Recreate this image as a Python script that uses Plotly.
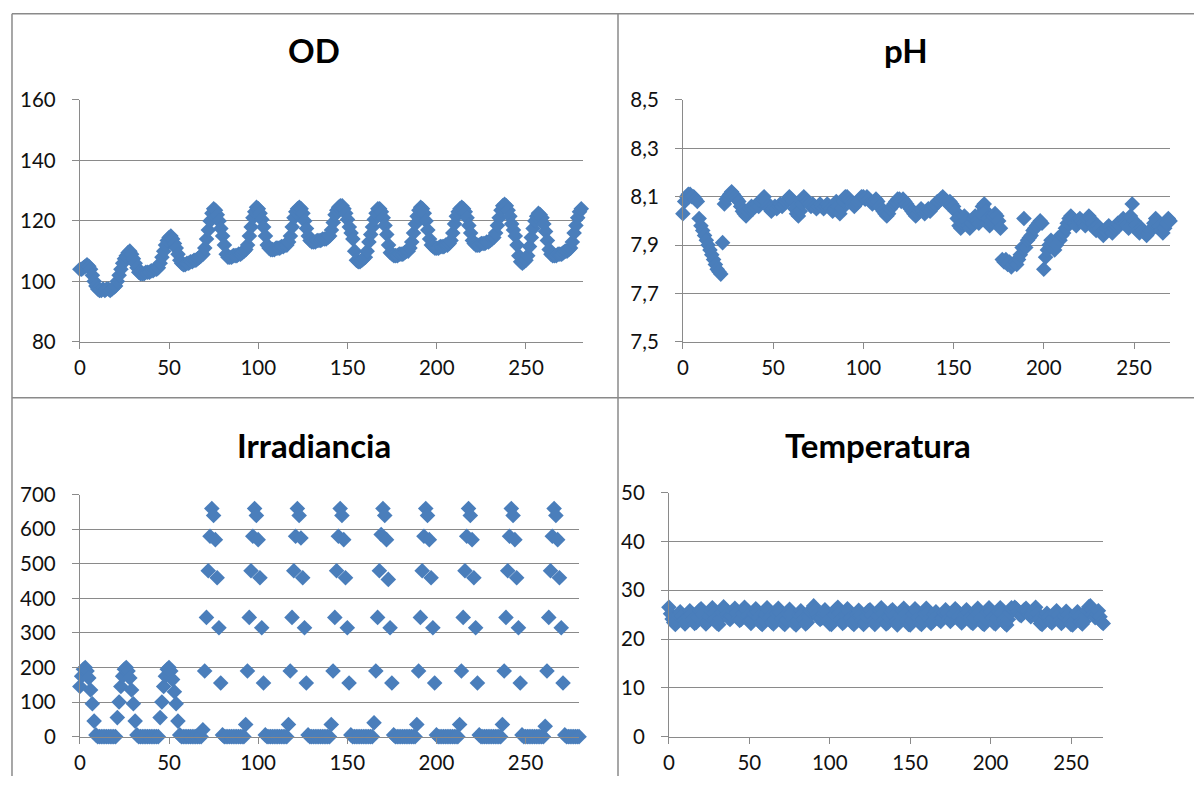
import plotly.graph_objects as go

# ---------------- data ----------------
od_hours = list(range(0, 282))
od_values = [
    104, 104, 104.5, 105, 105.5, 105, 104, 102, 100, 98.5, 97.5, 97, 97, 97.5, 97, 97.5, 97.5, 97, 97.5, 98, 98.5, 100, 102, 104,
    106, 107.5, 108.5, 109.5, 110, 109, 107.5, 106, 104.5, 103, 102.5, 102.5, 102.5, 103, 103, 103, 103.5, 103.5, 104, 104, 104.5, 106, 108, 110,
    112, 113.5, 114.5, 115, 114, 112.5, 111, 109, 107, 106, 105.5, 105.5, 106, 106, 106.5, 106.5, 107, 107, 107.5, 108, 108.5, 109, 111, 114,
    117, 120, 122.5, 124, 123.5, 122, 120, 117.5, 115, 112, 109, 108, 108, 108, 108.5, 108.5, 108.5, 109, 109, 109.5, 110, 110.5, 112, 115,
    118, 121, 123, 124.5, 124, 122.5, 120.5, 118, 115, 112, 111, 110.5, 110.5, 110.5, 111, 111, 111, 111.5, 111.5, 112, 112, 113, 115, 118,
    121, 123, 124, 124.5, 124, 122.5, 120, 117.5, 115, 113.5, 113, 113, 113, 113.5, 113.5, 113.5, 114, 114, 114, 114.5, 115, 117, 119.5, 122,
    123.5, 124.5, 125, 125, 124, 122.5, 120.5, 118, 116, 114, 110, 107, 106.5, 106.5, 107, 107.5, 108, 110, 113, 115.5, 118, 120.5, 122.5, 124,
    124, 123, 121, 118.5, 115.5, 112, 109.5, 109, 108.5, 108.5, 108.5, 109, 109, 109, 109.5, 110, 110, 111, 113, 116, 119, 121.5, 123.5, 124.5,
    124, 122.5, 120, 117, 114, 112, 111.5, 111, 111, 111, 111.5, 111.5, 111.5, 112, 112, 112.5, 113.5, 116, 119, 121.5, 123, 124, 124.5, 124,
    123, 121, 118.5, 116, 113.5, 112.5, 112, 112, 112, 112.5, 112.5, 112.5, 113, 113, 113.5, 114, 114.5, 116, 118.5, 121, 123.5, 125, 125.5, 125,
    123.5, 121.5, 119, 117, 115, 112, 108.5, 106.5, 106, 106.5, 107, 108.5, 111.5, 114.5, 117.5, 120, 121.5, 122.5, 122, 121, 119, 116.5, 113.5, 110.5,
    109, 108.5, 108.5, 108.5, 109, 109, 109, 109.5, 110, 110, 110.5, 111, 113, 116, 118.5, 121, 123, 124,
]

ph_hours = list(range(0, 271))
ph_values = [
    8.03, 8.08, 8.10, 8.11, 8.11, 8.10, 8.10, 8.09, 8.08, 8.01, 7.98, 7.96, 7.94, 7.92, 7.90, 7.88, 7.86, 7.84, 7.82, 7.80, 7.79, 7.78, 7.91, 8.07,
    8.09, 8.10, 8.11, 8.12, 8.11, 8.10, 8.09, 8.08, 8.06, 8.04, 8.03, 8.02, 8.04, 8.05, 8.06, 8.05, 8.06, 8.07, 8.06, 8.08, 8.09, 8.10, 8.08, 8.06,
    8.05, 8.04, 8.05, 8.06, 8.05, 8.06, 8.07, 8.06, 8.07, 8.08, 8.09, 8.10, 8.09, 8.08, 8.05, 8.03, 8.02, 8.04, 8.07, 8.10, 8.09, 8.08, 8.07, 8.06,
    8.07, 8.06, 8.05, 8.06, 8.07, 8.06, 8.05, 8.06, 8.07, 8.06, 8.05, 8.04, 8.05, 8.08, 8.06, 8.03, 8.05, 8.08, 8.10, 8.10, 8.09, 8.08, 8.07, 8.06,
    8.07, 8.08, 8.09, 8.10, 8.10, 8.09, 8.10, 8.09, 8.08, 8.07, 8.08, 8.09, 8.08, 8.06, 8.05, 8.04, 8.03, 8.02, 8.03, 8.05, 8.06, 8.07, 8.08, 8.09,
    8.09, 8.08, 8.09, 8.08, 8.07, 8.06, 8.05, 8.04, 8.03, 8.02, 8.03, 8.04, 8.05, 8.04, 8.03, 8.04, 8.05, 8.04, 8.05, 8.06, 8.07, 8.08, 8.08, 8.09,
    8.10, 8.09, 8.08, 8.07, 8.08, 8.07, 8.06, 8.04, 8.01, 7.98, 7.97, 7.99, 8.02, 8.00, 7.98, 7.97, 7.99, 8.01, 8.02, 8.00, 7.99, 8.03, 8.06, 8.07,
    8.04, 8.01, 7.98, 8.00, 8.02, 8.03, 8.02, 8.00, 7.97, 7.84, 7.83, 7.84, 7.82, 7.83, 7.81, 7.82, 7.83, 7.82, 7.84, 7.86, 7.89, 8.01, 7.89, 7.92,
    7.93, 7.94, 7.96, 7.97, 7.98, 7.99, 8.00, 7.99, 7.80, 7.85, 7.88, 7.90, 7.92, 7.91, 7.88, 7.90, 7.93, 7.92, 7.94, 7.95, 7.97, 7.99, 8.01, 8.02,
    8.01, 7.99, 7.98, 8.00, 8.01, 8.00, 7.99, 7.98, 8.01, 8.02, 8.01, 7.99, 7.97, 7.96, 7.98, 7.97, 7.95, 7.94, 7.96, 7.97, 7.98, 7.96, 7.95, 7.97,
    7.98, 7.99, 7.98, 8.00, 8.01, 7.99, 7.98, 7.97, 8.02, 8.07, 8.00, 7.98, 7.96, 7.95, 7.97, 7.96, 7.95, 7.94, 7.95, 7.96, 7.97, 7.99, 8.01, 8.00,
    7.98, 7.96, 7.95, 7.97, 7.99, 8.01, 8.00,
]

irr_hours = list(range(0, 281))
irr_values = [
    145, 175, 195, 200, 190, 170, 135, 95, 45, 5,
    0, 0, 0, 0, 0, 0, 0, 0, 0, 0, 0,
    55, 100, 145, 175, 195, 200, 190, 170, 135, 95, 45, 5,
    0, 0, 0, 0, 0, 0, 0, 0, 0, 0, 0, 0,
    55, 100, 145, 175, 195, 200, 190, 165, 130, 95, 45, 5,
    0, 0, 0, 0, 0, 0, 0, 0, 0, 0, 0, 0,
    20, 190, 345, 480, 580, 660, 640, 570, 460, 315, 155, 5,
    0, 0, 0, 0, 0, 0, 0, 0, 0, 0, 0, 0,
    35, 190, 345, 480, 580, 660, 640, 570, 460, 315, 155, 5,
    0, 0, 0, 0, 0, 0, 0, 0, 0, 0, 0, 0,
    35, 190, 345, 480, 580, 660, 640, 575, 460, 315, 155, 5,
    0, 0, 0, 0, 0, 0, 0, 0, 0, 0, 0, 0,
    35, 190, 345, 480, 580, 660, 640, 570, 460, 315, 155, 5,
    0, 0, 0, 0, 0, 0, 0, 0, 0, 0, 0, 0,
    40, 190, 345, 480, 585, 660, 640, 570, 455, 315, 155, 5,
    0, 0, 0, 0, 0, 0, 0, 0, 0, 0, 0, 0,
    35, 190, 345, 480, 580, 660, 640, 570, 460, 315, 155, 5,
    0, 0, 0, 0, 0, 0, 0, 0, 0, 0, 0, 0,
    35, 190, 345, 480, 580, 660, 640, 570, 460, 315, 155, 5,
    0, 0, 0, 0, 0, 0, 0, 0, 0, 0, 0, 0,
    35, 190, 345, 480, 580, 660, 640, 570, 460, 315, 155, 5,
    0, 0, 0, 0, 0, 0, 0, 0, 0, 0, 0, 0,
    30, 190, 345, 480, 580, 660, 640, 570, 460, 315, 155, 5,
    0, 0, 0, 0, 0, 0, 0, 0,
]

temp_hours = list(range(0, 271))
temp_values = [
    26.5, 25.2, 24.1, 23.4, 23.0, 23.6, 24.8, 25.6, 24.9, 23.8, 23.1, 23.5, 24.6, 25.8, 25.1, 24.0, 23.2, 23.4, 24.5, 25.9, 26.2, 25.0, 23.6, 23.1,
    23.5, 24.7, 25.8, 26.4, 25.3, 24.1, 23.2, 23.0, 24.2, 25.5, 26.6, 26.1, 25.0, 24.4, 24.0, 24.6, 25.7, 26.3, 25.4, 24.3, 23.8, 24.1, 25.2, 26.5,
    26.0, 24.8, 23.7, 23.2, 23.9, 25.1, 26.2, 25.6, 24.4, 23.3, 23.0, 23.8, 25.0, 26.4, 25.9, 24.6, 23.4, 23.1, 24.0, 25.3, 26.3, 25.5, 24.2, 23.3,
    23.0, 23.9, 25.2, 26.1, 25.4, 24.1, 23.2, 22.9, 23.7, 24.9, 25.8, 25.1, 24.0, 23.1, 23.4, 24.6, 25.7, 26.2, 26.8, 26.0, 25.1, 24.4, 24.0, 24.3,
    25.2, 26.0, 25.1, 23.9, 23.1, 23.0, 23.8, 25.0, 26.1, 26.5, 25.3, 24.0, 23.2, 23.5, 24.8, 26.2, 25.6, 24.3, 23.3, 23.0, 23.9, 25.1, 25.9, 25.0,
    23.8, 23.0, 23.4, 24.7, 25.8, 26.0, 24.9, 23.7, 23.0, 23.5, 24.8, 25.9, 26.4, 25.2, 24.0, 23.1, 23.3, 24.6, 25.7, 26.0, 24.8, 23.6, 22.9, 23.4,
    24.8, 25.9, 26.3, 25.1, 23.8, 23.0, 22.9, 23.8, 25.1, 26.2, 25.7, 24.4, 23.3, 23.0, 24.0, 25.3, 26.3, 25.4, 24.1, 23.2, 23.6, 24.9, 25.6, 24.8,
    23.9, 23.6, 24.3, 25.4, 26.0, 25.3, 24.2, 23.6, 24.0, 25.1, 26.2, 25.8, 24.6, 23.7, 23.3, 23.9, 25.0, 26.0, 25.5, 24.4, 23.4, 23.2, 24.3, 25.6,
    26.3, 25.5, 24.2, 23.2, 23.0, 24.1, 25.5, 26.4, 25.6, 24.3, 23.3, 23.1, 24.2, 25.6, 26.4, 25.4, 24.0, 23.2, 22.9, 24.0, 25.4, 26.4, 26.0, 26.5,
    26.2, 25.6, 25.0, 24.8, 25.3, 26.0, 26.3, 25.7, 25.0, 24.6, 25.1, 25.9, 26.5, 25.4, 24.0, 23.2, 23.0, 23.8, 24.7, 25.3, 24.5, 23.6, 23.3, 24.2,
    25.3, 25.8, 24.9, 23.8, 23.2, 23.6, 24.7, 25.7, 25.1, 23.9, 23.0, 22.9, 23.8, 25.0, 25.6, 24.6, 23.5, 23.1, 23.6, 24.8, 25.9, 26.6, 26.8, 26.0,
    25.2, 24.4, 25.0, 25.8, 24.6, 23.5, 23.2,
]

titles = ["OD", "pH", "Irradiancia", "Temperatura"]
x_ticks = [0, 50, 100, 150, 200, 250]
od_ticks = [80, 100, 120, 140, 160]
ph_ticks = [7.5, 7.7, 7.9, 8.1, 8.3, 8.5]
ph_ticktext = ["7,5", "7,7", "7,9", "8,1", "8,3", "8,5"]
irr_ticks = [0, 100, 200, 300, 400, 500, 600, 700]
temp_ticks = [0, 10, 20, 30, 40, 50]

# ---------------- styling / layout ----------------
W, H = 1194, 787
MARKER_COLOR = "#4A7EBB"
GRID = "#8A8A8A"
FONT = "Lato, 'Open Sans', 'DejaVu Sans', sans-serif"


# target pixel positions (as seen in the final picture) -> figure pixels
def fx(p):
    return ((p - 4) / 0.9966) / W


def fy(p):
    return 1 - ((p - 13) / 0.970) / H


def clamp(v):
    return max(0.0, min(1.0, v))


fig = go.Figure()

series = [
    (od_hours, od_values, "x", "y"),
    (ph_hours, ph_values, "x2", "y2"),
    (irr_hours, irr_values, "x3", "y3"),
    (temp_hours, temp_values, "x4", "y4"),
]
for xs, ys, xa, ya in series:
    fig.add_trace(go.Scatter(
        x=xs, y=ys, xaxis=xa, yaxis=ya, mode="markers",
        marker=dict(symbol="diamond", size=12, color=MARKER_COLOR, line=dict(width=0)),
        cliponaxis=False, showlegend=False, hoverinfo="x+y",
    ))

tickfont = dict(family=FONT, size=20.5, color="#111111")


def xaxis(domain, rng, anchor):
    return dict(domain=domain, range=rng, anchor=anchor, tickvals=x_ticks,
                showgrid=False, zeroline=False, showline=True, linecolor=GRID, linewidth=1,
                ticks="outside", ticklen=6, tickcolor=GRID, tickwidth=1,
                tickfont=tickfont, ticklabelstandoff=2, fixedrange=True)


def yaxis(domain, rng, anchor, tickvals, ticktext=None):
    d = dict(domain=domain, range=rng, anchor=anchor, tickvals=tickvals,
             showgrid=True, gridcolor=GRID, gridwidth=1, zeroline=False,
             showline=True, linecolor=GRID, linewidth=1,
             ticks="outside", ticklen=7, tickcolor=GRID, tickwidth=1,
             tickfont=tickfont, ticklabelstandoff=12, fixedrange=True)
    if ticktext is not None:
        d["ticktext"] = ticktext
    return d


top_dom = [fy(342), fy(100)]
fig.update_layout(
    width=W, height=H, margin=dict(l=0, r=0, t=0, b=0),
    paper_bgcolor="white", plot_bgcolor="white",
    xaxis=xaxis([fx(78), fx(582)], [0, 282], "y"),
    yaxis=yaxis(top_dom, [80, 160], "x", od_ticks),
    xaxis2=xaxis([fx(682), fx(1170)], [0, 270], "y2"),
    yaxis2=yaxis(top_dom, [7.5, 8.5], "x2", ph_ticks, ph_ticktext),
    xaxis3=xaxis([fx(78), fx(578)], [0, 280], "y3"),
    yaxis3=yaxis([fy(737), fy(495)], [0, 700], "x3", irr_ticks),
    xaxis4=xaxis([fx(668), fx(1103)], [0, 270], "y4"),
    yaxis4=yaxis([fy(737), fy(493)], [0, 50], "x4", temp_ticks),
)

title_pos = [(313, 50), (905, 50), (313, 445), (877, 445)]
for t, (px, py) in zip(titles, title_pos):
    fig.add_annotation(x=fx(px), y=fy(py), xref="paper", yref="paper",
                       text="<b>" + t + "</b>", showarrow=False,
                       xanchor="center", yanchor="middle",
                       font=dict(family=FONT, size=33, color="#000000"))

# panel borders (Excel chart-area frames)
border = dict(color="#8A8A8A", width=1.5)
top_y = 1 - 0.75 / H
lines = [
    (fx(10), top_y, 1.0, top_y),
    (fx(10), top_y, fx(10), 0.0),
    (fx(617), top_y, fx(617), fy(398)),
    (fx(10), fy(398), 1.0, fy(398)),
    (fx(617), fy(398), fx(617), 0.0),
]
for x0, y0, x1, y1 in lines:
    fig.add_shape(type="line", xref="paper", yref="paper",
                  x0=clamp(x0), y0=clamp(y0), x1=clamp(x1), y1=clamp(y1), line=border)

fig.write_html(
    "out.html",
    post_script="document.body.style.margin='0';document.body.style.overflow='hidden';",
)
